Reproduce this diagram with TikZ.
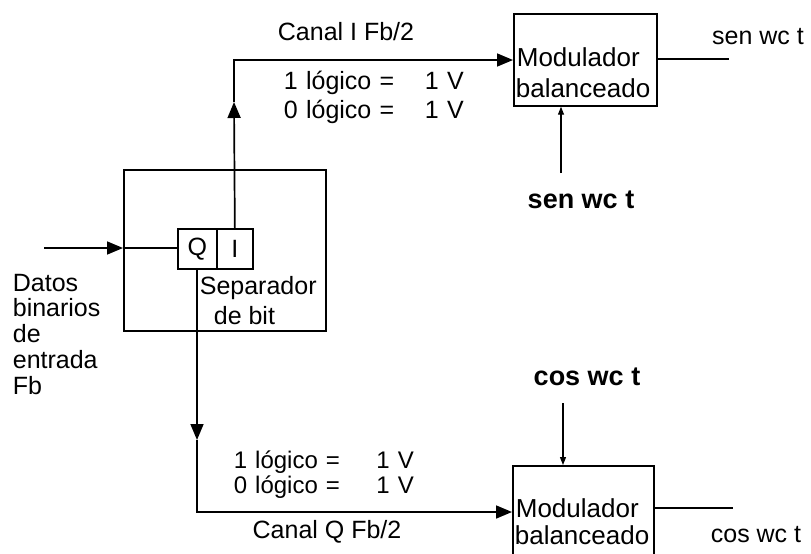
\documentclass[tikz,border=0pt]{standalone}
\usepackage{fontspec}
\setmainfont{Liberation Sans}
\usetikzlibrary{arrows.meta}
\begin{document}
\begin{tikzpicture}[x=1pt,y=-1pt,
  line width=1.7pt,
  blk/.style={draw, line width=1.7pt, inner sep=0pt, anchor=north west},
  txt/.style={font=\fontsize{25}{27}\selectfont, inner sep=0pt},
  smalltxt/.style={font=\fontsize{24}{26}\selectfont, inner sep=0pt},
  modtxt/.style={font=\fontsize{26}{28}\selectfont, inner sep=0pt, anchor=west},
  btxt/.style={font=\fontsize{27}{29}\selectfont\bfseries, inner sep=0pt},
  bigarr/.style={-{Triangle[length=16pt,width=13pt]}},
  smallarr/.style={line width=1.2pt,-{Triangle[length=8pt,width=6pt]}},
  thin line/.style={line width=1.3pt}
]
\useasboundingbox (0,0) rectangle (811,554);
\clip (0,0) rectangle (811,554);

% blocks
\node[blk, minimum width=202pt, minimum height=161pt] (sep) at (123,169) {};
\node[blk, minimum width=39pt, minimum height=40pt, txt] (qb) at (177,228) {Q};
\node[blk, minimum width=36pt, minimum height=40pt, txt] (ib) at (216,228) {I};
\node[blk, minimum width=143pt, minimum height=92pt] (m1) at (513,13) {};
\node[blk, minimum width=141pt, minimum height=110pt] (m2) at (512,465) {};

% texts inside blocks
\node[txt, anchor=west] (sep1) at (199,288) {Separador};
\node[txt, anchor=west] (sep2) at (213,316) {de bit};
\node[modtxt] (m1a) at (516,57) {Modulador};
\node[modtxt] (m1b) at (515,88) {balanceado};
\node[modtxt] (m2a) at (515,508) {Modulador};
\node[modtxt] (m2b) at (514,535) {balanceado};

% other labels
\node[txt, anchor=north west, align=left, font=\fontsize{25}{25.8}\selectfont] (datos) at (12,273)
  {Datos\\binarios\\de\\entrada\\Fb};
\node[txt] (canI) at (346,32) {Canal I Fb/2};
\node[txt, anchor=west, text width=180pt] (i1) at (283,83) {1 lógico =\hfill 1 V};
\node[txt, anchor=west, text width=180pt] (i0) at (283,112) {0 lógico =\hfill 1 V};
\node[smalltxt, anchor=west, text width=180pt] (q1) at (233,462) {1 lógico =\hfill 1 V};
\node[smalltxt, anchor=west, text width=180pt] (q0) at (233,487) {0 lógico =\hfill 1 V};
\node[txt] (canQ) at (327,532) {Canal Q Fb/2};
\node[txt] (sout) at (758,37) {sen wc t};
\node[txt] (cout) at (756,535) {cos wc t};
\node[btxt] (sin) at (581,200) {sen wc t};
\node[btxt] (cin) at (587,377) {cos wc t};

% coordinates
\coordinate (inp) at (44,248);
\coordinate (iarr) at (234,102);
\coordinate (icorner) at (234,60);
\coordinate (qarr) at (197,440);
\coordinate (qcorner) at (197,512);
\coordinate (outtop) at (729,59);
\coordinate (outbot) at (733,508);
\coordinate (sinstart) at (561,173);
\coordinate (cinstart) at (563,403);

% connectors
\draw[bigarr] (inp) -- (sep.west |- inp);
\draw (sep.west |- inp) -- (qb.west |- inp);
\draw[bigarr] (ib.north) -- (iarr);
\draw[bigarr] (iarr) -- (icorner) -- (m1.west |- icorner);
\draw[bigarr] (qcorner |- qb.south) -- (qarr);
\draw[bigarr] (qarr) -- (qcorner) -- (m2.west |- qcorner);
\draw[thin line] (m1.east |- outtop) -- (outtop);
\draw[line width=1.7pt] (m2.east |- outbot) -- (outbot);
\draw[smallarr] (sinstart) -- (m1.south -| sinstart);
\draw[smallarr] (cinstart) -- (m2.north -| cinstart);
\end{tikzpicture}
\end{document}
